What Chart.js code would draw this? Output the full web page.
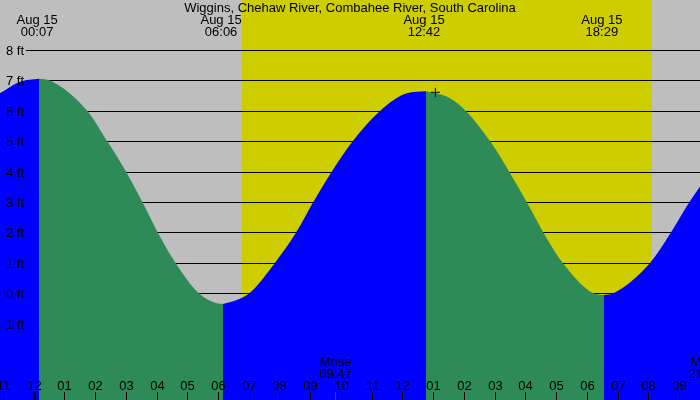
<!DOCTYPE html>
<html>
<head>
<meta charset="utf-8">
<script src="https://cdn.jsdelivr.net/npm/chart.js@4"></script>
<style>
html,body{margin:0;padding:0;background:#BEBEBE;}
#wrap{width:700px;height:400px;}
</style>
</head>
<body>
<div id="wrap"><canvas id="c" width="700" height="400"></canvas></div>
<script>
const titleText = 'Wiggins, Chehaw River, Combahee River, South Carolina';
// hours since midnight Aug 15
const tickHours  = [-1,0,1,2,3,4,5,6,7,8,9,10,11,12,13,14,15,16,17,18,19,20,21];
const tickLabels = ['11','12','01','02','03','04','05','06','07','08','09','10','11','12','01','02','03','04','05','06','07','08','09'];
const gridFeet   = [-1,0,1,2,3,4,5,6,7,8];
const gridLabels = ['-1 ft','0 ft','1 ft','2 ft','3 ft','4 ft','5 ft','6 ft','7 ft','8 ft'];
const extremeHours = [0.117, 6.1, 12.7, 18.483];
const extremeDates = ['Aug 15','Aug 15','Aug 15','Aug 15'];
const extremeTimes = ['00:07','06:06','12:42','18:29'];
const sunriseHour = 6.78, sunsetHour = 20.10;
const moonHours  = [9.8, 21.8];
const moonNames  = ['Mrise','Mset'];
const moonTimes  = ['09:47','21:48'];
// tide curve (feet)
const rise0Hours = [-1.0894,-0.44,0.1789];
const rise0Feet  = [6.58,6.96,7.06];
const fall1Hours = [0.1789,0.54,1.75,2.40,3.01,3.54,4.04,4.62,5.38,5.96,6.1626];
const fall1Feet  = [7.06,7.0,6,5,4,3,2,1,0,-0.33,-0.35];
const rise2Hours = [6.1626,6.61,7.02,7.85,8.54,9.10,9.70,10.38,11.27,12.14,12.7642];
const rise2Feet  = [-0.35,-0.22,0,1,2,3,4,5,6,6.58,6.65];
const fall2Hours = [12.7642,13.44,14.06,14.85,15.47,16.04,16.58,17.21,18.21,18.5528];
const fall2Feet  = [6.65,6.47,6,5,4,3,2,1,0,-0.06];
const rise4Hours = [18.5528,18.86,20.05,20.73,21.33,21.6748];
const rise4Feet  = [-0.06,0,1,2,3,3.51];
const crossHour = 13.07, crossFeet = 6.61;

const FONT = '13px "Liberation Sans", Arial, sans-serif';
const BLUE = '#0000FF', GREEN = '#2E8B57';

function pts(h, f){ return h.map((v,i)=>({x:v, y:f[i]})); }
function seg(h, f, color){
  return {data: pts(h,f), backgroundColor: color, borderWidth: 0, pointRadius: 0,
          fill: 'start', cubicInterpolationMode: 'monotone'};
}

const bgPlugin = {
  id: 'bg',
  beforeDatasetsDraw(chart){
    const {ctx, scales:{x, y}} = chart;
    ctx.save();
    ctx.fillStyle = '#BEBEBE';
    ctx.fillRect(0,0,chart.width,chart.height);
    const x1 = Math.round(x.getPixelForValue(sunriseHour)), x2 = Math.round(x.getPixelForValue(sunsetHour));
    ctx.fillStyle = '#CDCD00';
    ctx.fillRect(x1,0,x2-x1,chart.height);
    ctx.strokeStyle = '#000'; ctx.lineWidth = 1;
    gridFeet.forEach(v=>{
      const py = Math.round(y.getPixelForValue(v)) + 0.5;
      ctx.beginPath(); ctx.moveTo(26,py); ctx.lineTo(chart.width,py); ctx.stroke();
    });
    ctx.restore();
  }
};

const labelPlugin = {
  id: 'labels',
  afterDatasetsDraw(chart){
    const {ctx, scales:{x, y}} = chart;
    ctx.save();
    ctx.fillStyle = '#000';
    ctx.font = FONT;
    // y labels
    ctx.textAlign = 'right'; ctx.textBaseline = 'alphabetic';
    gridFeet.forEach((v,i)=>{
      ctx.fillText(gridLabels[i], 24, Math.round(y.getPixelForValue(v)) + 5);
    });
    // x ticks and labels
    ctx.textAlign = 'center';
    tickHours.forEach((h,i)=>{
      const px = Math.round(x.getPixelForValue(h));
      ctx.fillStyle = '#000';
      if (h === 0) ctx.fillRect(px-1, 392, 3, 8); else ctx.fillRect(px, 392, 1, 8);
      ctx.fillText(tickLabels[i], px+0.5, 390);
    });
    // moon
    moonHours.forEach((h,i)=>{
      const px = Math.round(x.getPixelForValue(h));
      ctx.fillStyle = '#FF0000';
      ctx.fillRect(px, 392, 1, 8);
      ctx.fillStyle = '#000';
      ctx.fillText(moonNames[i], px+0.5, 366);
      ctx.fillText(moonTimes[i], px+0.5, 378);
    });
    // extremes at top
    extremeHours.forEach((h,i)=>{
      const px = x.getPixelForValue(h);
      ctx.fillText(extremeDates[i], px, 24);
      ctx.fillText(extremeTimes[i], px, 36);
    });
    // title
    ctx.fillText(titleText, 350, 12);
    ctx.restore();
  }
};

new Chart(document.getElementById('c'), {
  type: 'line',
  data: {
    datasets: [
      seg(rise0Hours, rise0Feet, BLUE),
      seg(fall1Hours, fall1Feet, GREEN),
      seg(rise2Hours, rise2Feet, BLUE),
      seg(fall2Hours, fall2Feet, GREEN),
      seg(rise4Hours, rise4Feet, BLUE),
      {data:[{x:crossHour, y:crossFeet}], showLine:false, pointStyle:'cross',
       pointRadius:4.5, borderColor:'#000', borderWidth:1, backgroundColor:'#000', order:-1}
    ]
  },
  options: {
    responsive: false,
    animation: false,
    devicePixelRatio: 1,
    layout: {padding: 0, autoPadding: false},
    plugins: {legend:{display:false}, tooltip:{enabled:false}, title:{display:false}},
    events: [],
    scales: {
      x: {type:'linear', min:-1.089431, max:21.674797, display:false},
      y: {type:'linear', min:-3.51, max:9.648, display:false}
    }
  },
  plugins: [bgPlugin, labelPlugin]
});
</script>
</body>
</html>
